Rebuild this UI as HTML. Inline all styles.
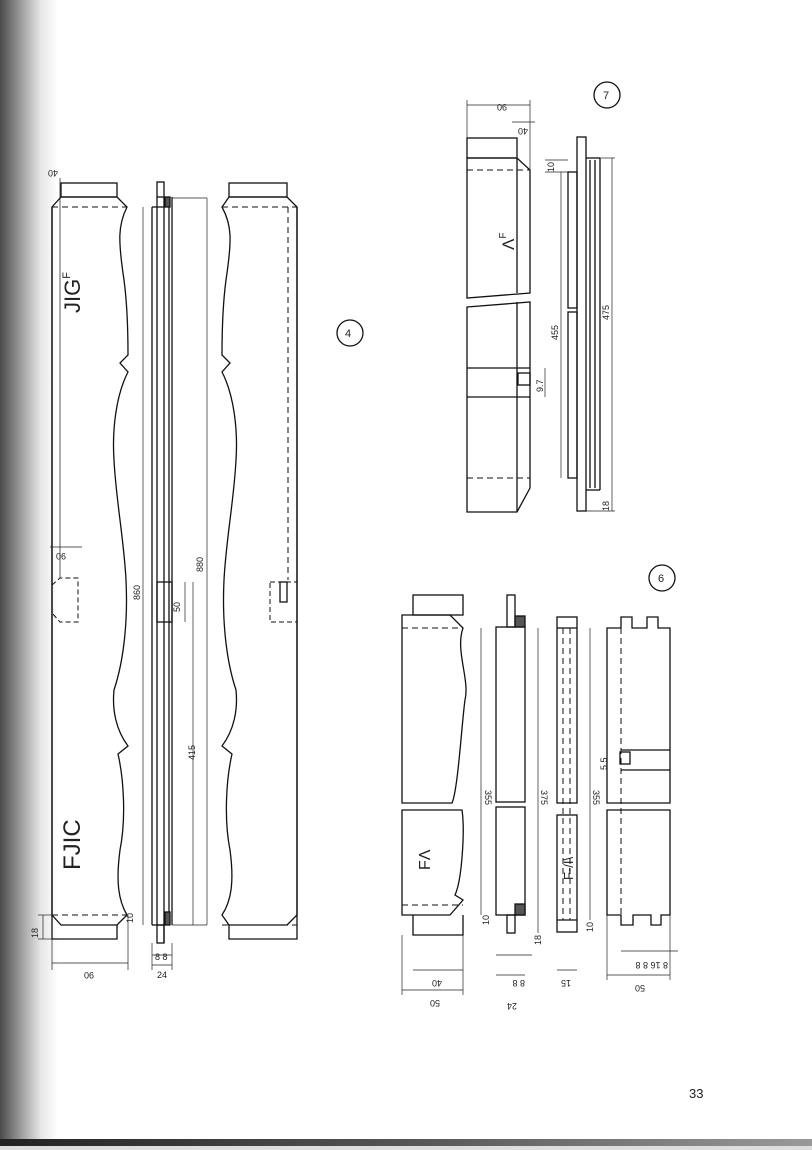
<!DOCTYPE html>
<html><head><meta charset="utf-8"><style>
html,body{margin:0;padding:0;width:812px;height:1150px;overflow:hidden;background:#fff}
svg{display:block}
text{font-family:"Liberation Sans",sans-serif;fill:#222}
</style></head><body>
<svg width="812" height="1150" viewBox="0 0 812 1150" xmlns="http://www.w3.org/2000/svg">
<defs>
<linearGradient id="lg" x1="0" x2="1" y1="0" y2="0">
<stop offset="0" stop-color="#4a4a4a"/><stop offset="0.35" stop-color="#9a9a9a"/><stop offset="0.7" stop-color="#e6e6e6"/><stop offset="1" stop-color="#fff"/>
</linearGradient>
<linearGradient id="bg" x1="0" x2="1" y1="0" y2="0">
<stop offset="0" stop-color="#222"/><stop offset="0.5" stop-color="#555"/><stop offset="1" stop-color="#999"/>
</linearGradient>
</defs>
<rect x="0" y="0" width="58" height="1150" fill="url(#lg)"/>
<rect x="0" y="1139" width="812" height="7" fill="url(#bg)"/>
<rect x="0" y="1146" width="812" height="4" fill="#ddd"/>

<g fill="none" stroke="#111" stroke-width="1.3">
<rect x="61" y="183" width="56" height="14"/>
<path d="M52 207 L61 197 L117 197 L127 207 C118 225 118 240 124 280 C128 310 128 340 128 355 L120 363 L128 372 C116 395 112 430 114 460 C116 500 124 540 126 580 C128 620 124 660 114 690 C112 710 116 730 128 746 L118 754 C124 780 126 820 120 850 C116 880 118 900 127 915 L117 925 L61 925 L52 915 Z"/>
<path d="M52 207 L52 939 L117 939 L117 925"/>
<line x1="52" y1="207" x2="127" y2="207" stroke-dasharray="6,4" stroke-width="1"/>
<line x1="52" y1="915" x2="127" y2="915" stroke-dasharray="6,4" stroke-width="1"/>
<path d="M52 585 L60 578 L78 578 L78 622 L60 622 L52 613" stroke-dasharray="5,3" stroke-width="1"/>
<line x1="60" y1="178" x2="60" y2="578" stroke-width="0.7"/>
<rect x="157" y="182" width="7" height="15"/>
<line x1="152" y1="207" x2="152" y2="925"/>
<line x1="164" y1="197" x2="164" y2="943"/>
<line x1="157" y1="197" x2="157" y2="925"/>
<line x1="169" y1="197" x2="169" y2="925"/>
<line x1="172" y1="197" x2="172" y2="925"/>
<line x1="152" y1="207" x2="164" y2="207"/>
<line x1="152" y1="925" x2="164" y2="925"/>
<rect x="157" y="925" width="7" height="18"/>
<rect x="157" y="582" width="15" height="40"/>
<rect x="165" y="912" width="5" height="13" fill="#555"/>
<rect x="165" y="197" width="5" height="10" fill="#555"/>
<rect x="229" y="183" width="58" height="14"/>
<path d="M297 207 L287 197 L229 197 L222 207 C232 225 232 240 226 280 C222 310 222 340 222 355 L230 363 L222 372 C234 395 238 430 236 460 C234 500 226 540 224 580 C222 620 226 660 236 690 C238 710 234 730 222 746 L232 754 C226 780 224 820 230 850 C234 880 232 900 222 915 L229 925 L287 925 L297 915 Z"/>
<path d="M297 207 L297 939 L229 939 L229 925"/>
<line x1="222" y1="207" x2="297" y2="207" stroke-dasharray="6,4" stroke-width="1"/>
<line x1="222" y1="925" x2="297" y2="925" stroke-dasharray="6,4" stroke-width="1"/>
<line x1="288" y1="207" x2="288" y2="580" stroke-dasharray="6,4" stroke-width="1"/>
<rect x="270" y="582" width="27" height="40" stroke-dasharray="5,3" stroke-width="1"/>
<rect x="280" y="582" width="7" height="20"/>
<circle cx="350" cy="333" r="13"/>
</g>
<g stroke="#222" stroke-width="0.7" fill="none">
<line x1="143" y1="207" x2="143" y2="925"/>
<line x1="207" y1="198" x2="207" y2="925"/>
<line x1="193" y1="582" x2="193" y2="925"/>
<line x1="185" y1="582" x2="185" y2="622"/>
<line x1="172" y1="198" x2="207" y2="198"/>
<line x1="172" y1="925" x2="207" y2="925"/>
<line x1="52" y1="963" x2="128" y2="963"/>
<line x1="128" y1="915" x2="128" y2="970"/>
<line x1="52" y1="939" x2="52" y2="970"/>
<line x1="43" y1="915" x2="43" y2="939"/>
<line x1="38" y1="915" x2="52" y2="915"/>
<line x1="38" y1="939" x2="52" y2="939"/>
<line x1="152" y1="955" x2="172" y2="955"/>
<line x1="152" y1="965" x2="172" y2="965"/>
<line x1="152" y1="943" x2="152" y2="970"/>
<line x1="172" y1="943" x2="172" y2="970"/>
<line x1="50" y1="547" x2="82" y2="547"/>
</g>
<g font-size="9">
<text transform="translate(66,553) rotate(180)">90</text>
<text transform="translate(140,600) rotate(-90)">860</text>
<text transform="translate(180,612) rotate(-90)">50</text>
<text transform="translate(203,572) rotate(-90)">880</text>
<text transform="translate(195,760) rotate(-90)">415</text>
<text x="82" y="978" transform="rotate(180 88 975)">90</text>
<text transform="translate(38,938) rotate(-90)">18</text>
<text transform="translate(133,923) rotate(-90)">10</text>
<text x="155" y="960">8 8</text>
<text x="157" y="978">24</text>
<text transform="translate(58,170) rotate(180)">40</text>
<text x="345" y="337" font-size="11">4</text>
</g>
<g font-size="22" fill="#222">
<text transform="translate(80,313) rotate(-90)">JIG<tspan font-size="11" dy="-10">F</tspan></text>
<text transform="translate(80,870) rotate(-90)" font-size="24">FJIC</text>
</g>

<g fill="none" stroke="#111" stroke-width="1.3">
<rect x="467" y="138" width="50" height="20"/>
<path d="M467 158 L517 158 L530 170 L530 293 L467 298 Z"/>
<path d="M467 307 L530 302 L530 488 L517 512 L467 512 Z"/>
<line x1="517" y1="158" x2="517" y2="293"/>
<line x1="517" y1="302" x2="517" y2="512"/>
<line x1="467" y1="368" x2="530" y2="368"/>
<line x1="467" y1="397" x2="530" y2="397"/>
<rect x="518" y="373" width="12" height="12"/>
<line x1="467" y1="170" x2="530" y2="170" stroke-dasharray="6,4" stroke-width="1"/>
<line x1="467" y1="478" x2="530" y2="478" stroke-dasharray="6,4" stroke-width="1"/>
<rect x="577" y="137" width="9" height="374"/>
<rect x="568" y="172" width="9" height="136"/>
<rect x="568" y="312" width="9" height="166"/>
<line x1="586" y1="158" x2="600" y2="158"/>
<line x1="586" y1="490" x2="600" y2="490"/>
<line x1="590" y1="160" x2="590" y2="488"/>
<line x1="595" y1="160" x2="595" y2="488"/>
<line x1="600" y1="158" x2="600" y2="490"/>
<circle cx="607" cy="95" r="13"/>
</g>
<g stroke="#222" stroke-width="0.7">
<line x1="467" y1="105" x2="530" y2="105"/>
<line x1="530" y1="100" x2="530" y2="170"/>
<line x1="467" y1="100" x2="467" y2="138"/>
<line x1="512" y1="122" x2="535" y2="122"/>
<line x1="561" y1="172" x2="561" y2="478"/>
<line x1="612" y1="158" x2="612" y2="511"/>
<line x1="600" y1="158" x2="615" y2="158"/>
<line x1="586" y1="511" x2="615" y2="511"/>
<line x1="545" y1="160" x2="568" y2="160"/>
<line x1="545" y1="172" x2="568" y2="172"/>
<line x1="545" y1="368" x2="545" y2="397"/>
</g>
<g font-size="9">
<text transform="translate(507,104) rotate(180)">90</text>
<text transform="translate(528,128) rotate(180)">40</text>
<text transform="translate(554,172) rotate(-90)">10</text>
<text transform="translate(558,340) rotate(-90)">455</text>
<text transform="translate(609,320) rotate(-90)">475</text>
<text transform="translate(543,392) rotate(-90)">9.7</text>
<text transform="translate(609,511) rotate(-90)">18</text>
<text x="603" y="99" font-size="11">7</text>
<text transform="translate(514,250) rotate(-90)" font-size="17">Λ<tspan font-size="10" dy="-8">F</tspan></text>
</g>

<g fill="none" stroke="#111" stroke-width="1.3">
<rect x="413" y="595" width="50" height="20"/>
<path d="M402 615 L450 615 L463 628 C455 650 470 680 465 700 C462 720 458 790 452 803 L402 803 Z"/>
<path d="M402 810 L462 810 C465 830 462 880 455 895 L463 900 L450 915 L402 915 Z"/>
<path d="M413 915 L413 935 L463 935 L463 915"/>
<line x1="402" y1="628" x2="463" y2="628" stroke-dasharray="6,4" stroke-width="1"/>
<line x1="402" y1="905" x2="463" y2="905" stroke-dasharray="6,4" stroke-width="1"/>
<rect x="507" y="595" width="8" height="32"/>
<rect x="496" y="627" width="29" height="175"/>
<rect x="496" y="807" width="29" height="108"/>
<rect x="507" y="915" width="8" height="18"/>
<rect x="515" y="616" width="10" height="11" fill="#555"/>
<rect x="515" y="904" width="10" height="11" fill="#555"/>
<rect x="557" y="617" width="20" height="186"/>
<rect x="557" y="815" width="20" height="117"/>
<line x1="557" y1="628" x2="577" y2="628"/>
<line x1="557" y1="920" x2="577" y2="920"/>
<path d="M607 628 L621 628 L621 617 L632 617 L632 628 L647 628 L647 617 L658 617 L658 628 L670 628 L670 803 L607 803 Z"/>
<path d="M607 810 L670 810 L670 915 L661 915 L661 925 L651 925 L651 915 L633 915 L633 925 L621 925 L621 915 L607 915 Z"/>
<line x1="621" y1="750" x2="670" y2="750"/>
<line x1="621" y1="770" x2="670" y2="770"/>
<rect x="620" y="752" width="10" height="12"/>
<circle cx="662" cy="578" r="13"/>
</g>
<g stroke="#111" stroke-width="1" stroke-dasharray="6,4" fill="none">
<line x1="563" y1="628" x2="563" y2="920"/>
<line x1="570" y1="628" x2="570" y2="920"/>
<line x1="621" y1="628" x2="621" y2="915"/>
</g>
<g stroke="#222" stroke-width="0.7">
<line x1="481" y1="628" x2="481" y2="915"/>
<line x1="538" y1="628" x2="538" y2="933"/>
<line x1="590" y1="628" x2="590" y2="920"/>
<line x1="402" y1="990" x2="463" y2="990"/>
<line x1="413" y1="970" x2="463" y2="970"/>
<line x1="496" y1="975" x2="525" y2="975"/>
<line x1="496" y1="955" x2="532" y2="955"/>
<line x1="557" y1="970" x2="577" y2="970"/>
<line x1="607" y1="975" x2="670" y2="975"/>
<line x1="621" y1="951" x2="678" y2="951"/>
<line x1="402" y1="935" x2="402" y2="995"/>
<line x1="463" y1="935" x2="463" y2="995"/>
<line x1="607" y1="915" x2="607" y2="980"/>
<line x1="670" y1="915" x2="670" y2="980"/>
</g>
<g font-size="9">
<text transform="translate(440,1000) rotate(180)">50</text>
<text transform="translate(442,980) rotate(180)">40</text>
<text transform="translate(517,1003) rotate(180)">24</text>
<text transform="translate(525,980) rotate(180)">8 8</text>
<text transform="translate(571,980) rotate(180)">15</text>
<text transform="translate(645,985) rotate(180)">50</text>
<text transform="translate(668,962) rotate(180)">8 16 8 8</text>
<text transform="translate(485,790) rotate(90)">355</text>
<text transform="translate(541,790) rotate(90)">375</text>
<text transform="translate(593,790) rotate(90)">355</text>
<text transform="translate(489,925) rotate(-90)">10</text>
<text transform="translate(541,945) rotate(-90)">18</text>
<text transform="translate(593,932) rotate(-90)">10</text>
<text transform="translate(607,770) rotate(-90)">5.5</text>
<text x="658" y="582" font-size="11">6</text>
<text transform="translate(430,870) rotate(-90)" font-size="16">FΛ</text>
<text transform="translate(573,880) rotate(-90)" font-size="13">F-/I\</text>
</g>
<text x="689" y="1098" font-size="13">33</text>
</svg>
</body></html>
